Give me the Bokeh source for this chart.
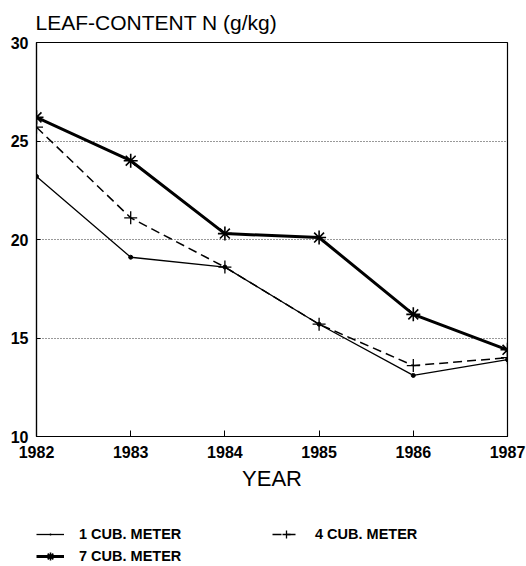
from bokeh.plotting import figure
from bokeh.layouts import column
from bokeh.models import FixedTicker, Legend, LegendItem, Range1d, Title
from bokeh.embed import file_html
from bokeh.resources import INLINE

years = [1982, 1983, 1984, 1985, 1986, 1987]
n_1m = [23.2, 19.1, 18.6, 15.7, 13.1, 13.9]
n_4m = [25.7, 21.1, 18.6, 15.7, 13.6, 14.0]
n_7m = [26.2, 24.0, 20.3, 20.1, 16.2, 14.4]
y_ticks = [10, 15, 20, 25, 30]
grid_ticks = [15, 20, 25]
series_names = ["1 CUB. METER", "4 CUB. METER", "7 CUB. METER"]

FONT = "Liberation Sans"

STYLES = [
    dict(line=dict(line_color="black", line_width=1.3),
         marker=dict(marker="circle", size=4, fill_color="black", line_color="black")),
    dict(line=dict(line_color="black", line_width=1.5, line_dash="9 5"),
         marker=dict(marker="cross", size=13, line_color="black", line_width=1.3)),
    dict(line=dict(line_color="black", line_width=3),
         marker=dict(marker="asterisk", size=14, line_color="black", line_width=1.6)),
]
LEGEND_MARKERS = ["dot", "cross", "asterisk"]

p = figure(width=526, height=500, output_backend="svg", toolbar_location=None,
           x_range=Range1d(1982, 1987), y_range=Range1d(10, 30),
           min_border_left=36, min_border_right=19, min_border_top=41,
           min_border_bottom=64, background_fill_color="white",
           border_fill_color="white")

t = Title(text="LEAF-CONTENT N (g/kg)", text_font=FONT, text_font_size="21px",
          text_font_style="normal", text_color="black", align="left", standoff=17,
          offset=-1)
p.add_layout(t, "above")

p.outline_line_color = "black"
p.outline_line_width = 1.2

# axes
p.xaxis.ticker = FixedTicker(ticks=years)
p.yaxis.ticker = FixedTicker(ticks=y_ticks)
for ax in (p.xaxis[0], p.yaxis[0]):
    ax.axis_line_color = "black"
    ax.axis_line_width = 1.2
    ax.major_tick_line_color = "black"
    ax.major_tick_out = 0
    ax.minor_tick_line_color = None
    ax.major_label_text_font = FONT
    ax.major_label_text_font_style = "bold"
    ax.major_label_text_font_size = "16px"
    ax.major_label_text_color = "black"
p.xaxis.major_tick_in = 6
p.yaxis.major_tick_in = 4
p.xaxis.major_label_standoff = 9
p.yaxis.major_label_standoff = 8
p.xaxis.axis_label = "YEAR"
p.xaxis.axis_label_text_font = FONT
p.xaxis.axis_label_text_font_size = "22px"
p.xaxis.axis_label_text_font_style = "normal"
p.xaxis.axis_label_text_color = "black"
p.xaxis.axis_label_standoff = 5

p.xgrid.grid_line_color = None
p.ygrid.ticker = FixedTicker(ticks=grid_ticks)
p.ygrid.grid_line_color = "#333333"
p.ygrid.grid_line_width = 1
p.ygrid.grid_line_dash = "1 2"

# series
for vals, st in zip([n_1m, n_4m, n_7m], STYLES):
    p.line(years, vals, **st["line"])
    p.scatter(years, vals, **st["marker"])

# legend panel: a small figure whose view range excludes the data, so only
# the legend samples of its renderers are visible
lg = figure(width=526, height=66, output_backend="svg", toolbar_location=None,
            x_axis_type=None, y_axis_type=None, x_range=Range1d(0, 1),
            y_range=Range1d(0, 1), min_border=0, min_border_left=0,
            min_border_right=0, min_border_top=0, min_border_bottom=0,
            background_fill_color="white", border_fill_color="white")
lg.outline_line_color = None
lg.grid.visible = False

items = []
for name, vals, st, mk in zip(series_names, [n_1m, n_4m, n_7m], STYLES, LEGEND_MARKERS):
    rl = lg.line(years, vals, **st["line"])
    mstyle = dict(st["marker"])
    mstyle["marker"] = mk
    rm = lg.scatter(years, vals, **mstyle)
    items.append(LegendItem(label=name, renderers=[rl, rm]))

legend = Legend(items=items, location=(0, 0), orientation="horizontal", ncols=2,
                glyph_width=28, glyph_height=20, label_height=20, label_width=191,
                label_standoff=15, spacing=2, padding=0, margin=0,
                label_text_font=FONT, label_text_font_style="bold",
                label_text_font_size="14.5px", label_text_color="black",
                border_line_color=None, background_fill_alpha=0)
lg.add_layout(legend, "center")

layout = column(p, lg, spacing=0)
open("out.html", "w").write(file_html(layout, INLINE))
